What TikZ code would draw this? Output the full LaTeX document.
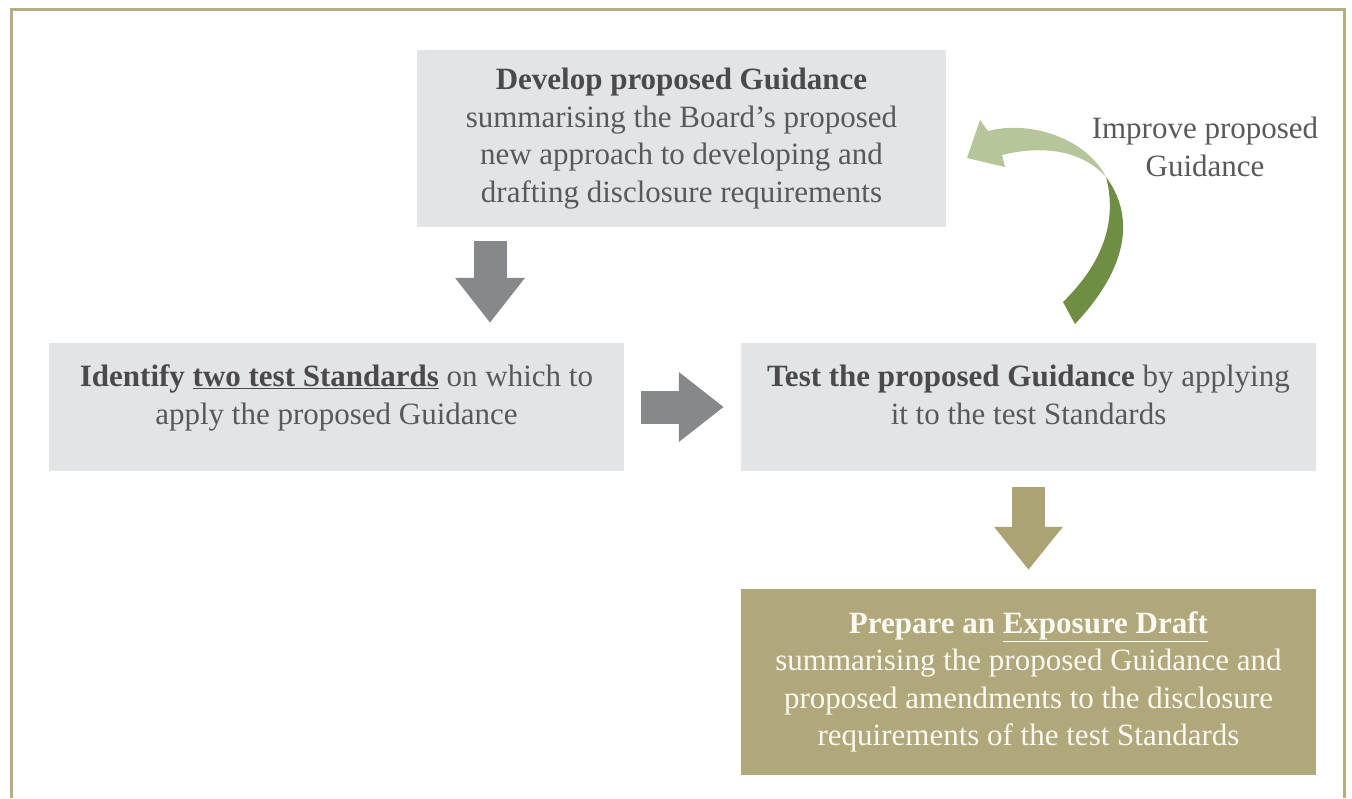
\documentclass[tikz,border=0pt]{standalone}
\usepackage{fontspec}
\setmainfont{Liberation Serif}
\usetikzlibrary{arrows.meta,calc}
\definecolor{boxgray}{HTML}{E3E4E5}
\definecolor{txtgray}{HTML}{58595B}
\definecolor{ttlgray}{HTML}{4A4A4C}
\definecolor{arrgray}{HTML}{87888C}
\definecolor{olivebox}{HTML}{B0A87B}
\definecolor{olivearr}{HTML}{ACA374}
\definecolor{frameol}{HTML}{B5AE85}
\definecolor{darkgreen}{HTML}{708D44}
\definecolor{lightgreen}{HTML}{B7C59B}
\definecolor{whitetxt}{HTML}{FBF9F2}
\tikzset{
  box/.style={fill=boxgray, draw=none, inner sep=0pt, align=center, text=txtgray,
    font=\fontsize{31}{37.5}\selectfont},
  olbox/.style={box, fill=olivebox, text=whitetxt},
  grayarrow/.style={draw=arrgray, line width=33pt, -{Triangle[width=67pt,length=45pt]}},
  olarrow/.style={draw=olivearr, line width=33pt, -{Triangle[width=66pt,length=43pt]}},
  lbl/.style={text=txtgray, align=center, font=\fontsize{31}{37.5}\selectfont, inner sep=0pt}
}
\begin{document}
\begin{tikzpicture}[x=1pt,y=-1pt]
\useasboundingbox (0,0) rectangle (1352,798);
\draw[frameol, line width=3pt] (11.5,798) -- (11.5,9.5) -- (1344.5,9.5) -- (1344.5,798);

\node[box, minimum width=529pt, minimum height=177pt] (develop) at (681.5,138.5)
  {{\color{ttlgray}\bfseries Develop proposed Guidance}\\
   summarising the Board’s proposed\\
   new approach to developing and\\
   drafting disclosure requirements};
\node[box, minimum width=575pt, minimum height=128pt] (identify) at (336.5,407) {};
\node[lbl] (identifytxt) at ($(identify)+(0,-9)$)
  {{\color{ttlgray}\bfseries Identify \underline{two test Standards}} on which to\\
   apply the proposed Guidance};
\node[box, minimum width=575pt, minimum height=128pt] (test) at (1028.5,407) {};
\node[lbl] (testtxt) at ($(test)+(0,-12)$)
  {{\color{ttlgray}\bfseries Test the proposed Guidance} by applying\\
   it to the test Standards};
\node[olbox, minimum width=575pt, minimum height=186pt] (prepare) at (1028.5,682)
  {{\bfseries Prepare an \underline{Exposure Draft}}\\
   summarising the proposed Guidance and\\
   proposed amendments to the disclosure\\
   requirements of the test Standards};

\draw[grayarrow, shorten <=14pt, shorten >=20pt]
  ($(develop.south)+(-191.5,0)$) -- ($(identify.north)+(153.5,0)$);
\draw[grayarrow, shorten <=17pt, shorten >=17pt] (identify.east) -- (test.west);
\draw[olarrow, shorten <=16pt, shorten >=19pt] (test.south) -- (prepare.north);

% curved "improve" arrow
\coordinate (pinch) at (1106,177);
\fill[darkgreen] (pinch) .. controls (1127,205) and (1140,255) .. (1075,324)
  -- (1063,302) .. controls (1108,258) and (1116,215) .. (pinch) -- cycle;
\fill[lightgreen] (pinch) .. controls (1086,138) and (1030,120) .. (988,131)
  -- (980,120) -- (967,158) -- (1005,167) -- (1002,155)
  .. controls (1042,145) and (1082,150) .. (pinch) -- cycle;

\node[lbl] (improve) at (1205,147) {Improve proposed\\Guidance};
\end{tikzpicture}
\end{document}
